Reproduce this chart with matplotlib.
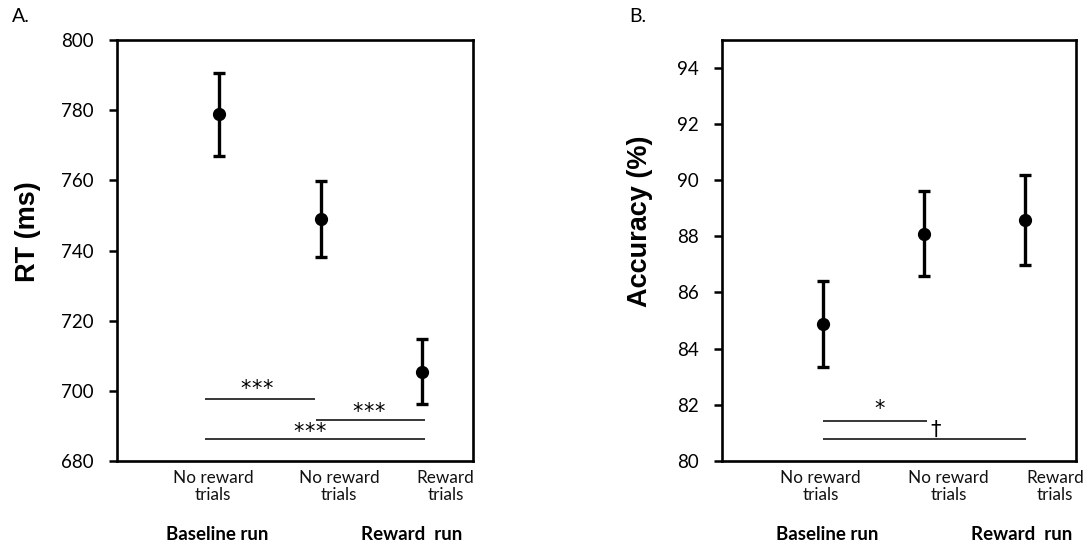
import matplotlib
matplotlib.use("Agg")
import matplotlib.pyplot as plt
import matplotlib.transforms as mtransforms

# ---- data ----
positions = [1, 2, 3]
category_labels = ["No reward\ntrials", "No reward\ntrials", "Reward\ntrials"]
run_labels = ["Baseline run", "Reward  run"]

rt_means = [778.8, 749.0, 705.5]
rt_errors = [11.8, 10.8, 9.3]
rt_yticks = [680, 700, 720, 740, 760, 780, 800]

acc_means = [84.87, 88.10, 88.58]
acc_errors = [1.52, 1.51, 1.62]
acc_yticks = [80, 82, 84, 86, 88, 90, 92, 94]

# significance brackets: (x_start, x_end, y, label, label_x, label_y)
rt_sig = [
    (0.865, 1.947, 697.6, "***", 1.37, 700.6),
    (1.954, 3.03, 691.6, "***", 2.47, 694.1),
    (0.865, 3.03, 686.3, "***", 1.89, 688.3),
]
acc_sig = [
    (1.0, 2.03, 81.43, "*", 1.56, 81.85),
    (1.0, 3.01, 80.77, "\u2020", 2.11, 81.1),
]

W, H = 1090, 547
fig = plt.figure(figsize=(W / 100, H / 100), dpi=100)


def px_axes(left, right, top, bottom):
    return fig.add_axes([left / W, 1 - bottom / H, (right - left) / W, (bottom - top) / H])


axA = px_axes(117.3, 473.0, 40, 461)
axB = px_axes(722.3, 1076.0, 40, 460.7)

tick_font = dict(family="Lato", size=13.5)


def style(ax, ylim, yticks):
    ax.set_xlim(0, 3.5)
    ax.set_ylim(*ylim)
    ax.set_yticks(yticks)
    ax.set_yticklabels([str(t) for t in yticks], fontdict=tick_font)
    ax.set_xticks([])
    for s in ax.spines.values():
        s.set_linewidth(1.9)
        s.set_color("black")
    ax.tick_params(axis="y", direction="out", length=5.8, width=1.8, pad=11, colors="black")


def sig_label(ax, lx, ly, lab):
    n = len(lab)
    step = 7.9  # points between symbol centres
    for i, ch in enumerate(lab):
        off = (i - (n - 1) / 2) * step
        ax.annotate(ch, xy=(lx, ly), xytext=(off, 0), textcoords="offset points",
                    ha="center", va="center", fontsize=15, family="DejaVu Sans")


def draw(ax, means, errs, sigs, cat_x, run_x, ylim, yticks, ylabel, ylabel_pos, panel, panel_pos):
    style(ax, ylim, yticks)
    ax.errorbar(positions, means, yerr=errs, fmt="o", color="black", ms=8.5,
                elinewidth=2.4, capsize=4, capthick=2.4, zorder=3)
    for x0, x1, y, lab, lx, ly in sigs:
        ax.plot([x0, x1], [y, y], color="black", lw=1.1, solid_capstyle="butt")
        sig_label(ax, lx, ly, lab)
    trans = mtransforms.blended_transform_factory(ax.transData, fig.transFigure)
    for x, lab in zip(cat_x, category_labels):
        ax.text(x, 1 - 486.7 / H, lab, transform=trans, ha="center", va="center",
                family="Lato", fontsize=12.3, linespacing=1.05, color="#111111")
    for x, lab in zip(run_x, run_labels):
        ax.text(x, 1 - 535 / H, lab, transform=trans, ha="center", va="center",
                family="Lato", fontweight="bold", fontsize=13.5, color="black")
    fig.text(ylabel_pos[0] / W, 1 - ylabel_pos[1] / H, ylabel, rotation=90,
             ha="center", va="center", family="Liberation Sans", fontweight="bold", fontsize=19.5)
    fig.text(panel_pos[0] / W, 1 - panel_pos[1] / H, panel, ha="left", va="center",
             family="Lato", fontsize=14)


draw(axA, rt_means, rt_errors, rt_sig,
     cat_x=[0.94, 2.18, 3.23], run_x=[0.98, 2.90],
     ylim=(680, 800), yticks=rt_yticks, ylabel="RT (ms)", ylabel_pos=(28, 232),
     panel="A.", panel_pos=(12, 17))
draw(axB, acc_means, acc_errors, acc_sig,
     cat_x=[0.97, 2.24, 3.29], run_x=[1.04, 2.96],
     ylim=(80, 95), yticks=acc_yticks, ylabel="Accuracy (%)", ylabel_pos=(640, 221),
     panel="B.", panel_pos=(629, 17))

fig.savefig("out.png", dpi=100)
